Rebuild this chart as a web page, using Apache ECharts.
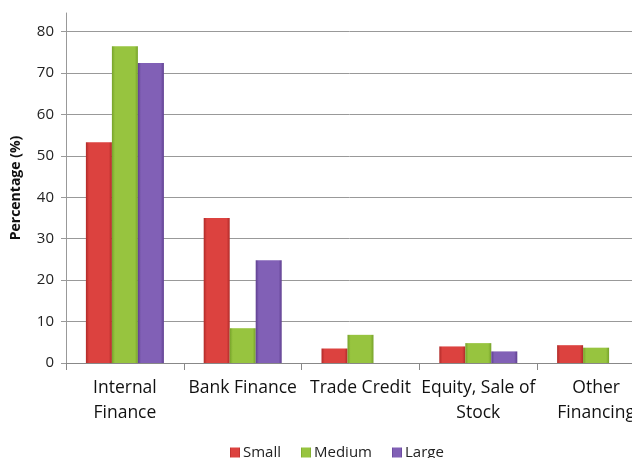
<!DOCTYPE html>
<html>
<head>
<meta charset="utf-8">
<script src="https://cdn.jsdelivr.net/npm/echarts@6/dist/echarts.min.js"></script>
<style>
html,body{margin:0;padding:0;background:#fff;}
#c{width:632px;height:458px;}
</style>
</head>
<body>
<div id="c"></div>
<script>
var categories = ["Internal\nFinance", "Bank Finance", "Trade Credit", "Equity, Sale of\nStock", "Other\nFinancing"];
var seriesNames = ["Small", "Medium", "Large"];
var small = [53.3, 35.0, 3.5, 4.0, 4.3];
var medium = [76.5, 8.4, 6.8, 4.8, 3.7];
var large = [72.4, 24.8, 0, 2.8, 0];
var yTicks = [0, 10, 20, 30, 40, 50, 60, 70, 80];

function grad(edge, mid) {
  return new echarts.graphic.LinearGradient(0, 0, 1, 0, [
    {offset: 0, color: edge},
    {offset: 0.12, color: mid},
    {offset: 0.88, color: mid},
    {offset: 1, color: edge}
  ]);
}
var colors = [
  {edge: '#b02a28', mid: '#dc423f', legend: '#d63c3a'},
  {edge: '#76a22a', mid: '#97c43f', legend: '#8fbf3a'},
  {edge: '#5f3f90', mid: '#8160b6', legend: '#7d58b0'}
];
var dataSets = [small, medium, large];

var chart = echarts.init(document.getElementById('c'), null, {renderer: 'canvas'});
var font = '"Open Sans", "Liberation Sans", sans-serif';
chart.setOption({
  animation: false,
  color: colors.map(function(c){return c.legend;}),
  grid: {left: 66, top: 13, width: 589, height: 350, containLabel: false, outerBoundsMode: 'none'},
  legend: {
    bottom: -7, left: 225,
    itemWidth: 10, itemHeight: 10, itemGap: 20,
    icon: 'rect',
    textStyle: {fontFamily: font, fontSize: 15, color: '#222', padding: [0,0,0,-2]},
    data: seriesNames
  },
  xAxis: {
    type: 'category',
    data: categories,
    axisLine: {lineStyle: {color: '#888'}},
    axisTick: {show: true, length: 7, lineStyle: {color: '#888'}},
    axisLabel: {fontFamily: font, fontSize: 17.5, color: '#111', margin: 13, lineHeight: 25, interval: 0}
  },
  yAxis: {
    type: 'value',
    min: 0, max: 84.5, interval: 10,
    name: 'Percentage (%)',
    nameLocation: 'middle',
    nameGap: 43,
    nameTextStyle: {fontFamily: font, fontSize: 14, fontWeight: 'bold', color: '#111'},
    axisLine: {show: true, lineStyle: {color: '#999'}},
    axisTick: {show: true, length: 5, lineStyle: {color: '#999'}},
    axisLabel: {fontFamily: font, fontSize: 15, color: '#222', margin: 12, showMaxLabel: false,
      formatter: function(v){ return yTicks.indexOf(v) >= 0 ? String(v) : ''; }},
    splitLine: {show: true, showMaxLine: false, lineStyle: {color: '#999', width: 1}}
  },
  series: seriesNames.map(function(n, i) {
    return {
      name: n,
      type: 'bar',
      data: dataSets[i],
      barWidth: 26,
      barGap: '0%',
      itemStyle: {color: grad(colors[i].edge, colors[i].mid)}
    };
  })
});
</script>
</body>
</html>
